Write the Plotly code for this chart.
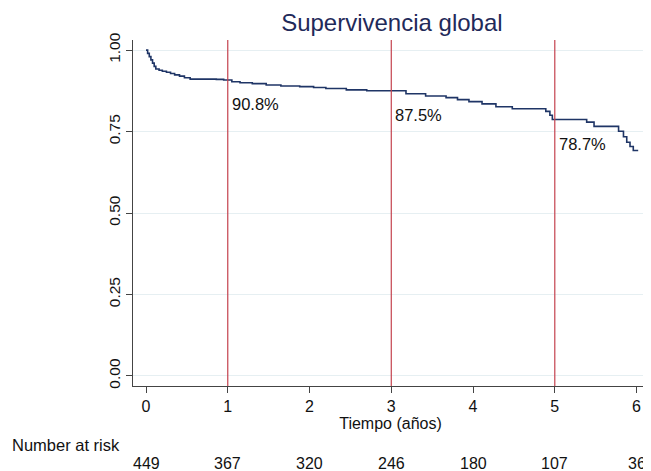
import plotly.graph_objects as go

# Kaplan-Meier estimate (time in years, survival)
km_time = [0.0, 0.02, 0.04, 0.06, 0.08, 0.10, 0.12, 0.16, 0.20, 0.25, 0.30, 0.35, 0.41, 0.47, 0.54,
           0.86, 0.95, 1.05, 1.15, 1.30, 1.47, 1.65, 1.88, 2.05, 2.20, 2.45, 2.70, 3.18, 3.42,
           3.67, 3.81, 3.95, 4.11, 4.28, 4.48, 4.89, 4.94, 4.97, 5.39, 5.48, 5.78, 5.84, 5.88,
           5.92, 5.96, 6.02]
km_surv = [1.0, 0.99, 0.98, 0.97, 0.96, 0.95, 0.942, 0.938, 0.935, 0.932, 0.928, 0.924, 0.920, 0.915, 0.911,
           0.910, 0.908, 0.903, 0.900, 0.897, 0.893, 0.890, 0.888, 0.885, 0.882, 0.878, 0.875, 0.866, 0.859,
           0.854, 0.848, 0.842, 0.835, 0.826, 0.820, 0.812, 0.800, 0.787, 0.779, 0.766, 0.751, 0.734, 0.717,
           0.704, 0.692, 0.692]

marker_years = [1, 3, 5]
marker_labels = ["90.8%", "87.5%", "78.7%"]
marker_values = [0.908, 0.875, 0.787]

risk_times = [0, 1, 2, 3, 4, 5, 6]
risk_counts = [449, 367, 320, 246, 180, 107, 36]

x_ticks = [0, 1, 2, 3, 4, 5, 6]
y_ticks = [0.0, 0.25, 0.5, 0.75, 1.0]
y_tick_text = ["0.00", "0.25", "0.50", "0.75", "1.00"]

FONT = "Liberation Sans, Arial, sans-serif"

fig = go.Figure()
fig.add_trace(go.Scatter(x=km_time, y=km_surv, mode="lines", line_shape="hv",
                         line=dict(color="#1f3566", width=1.6), showlegend=False,
                         hoverinfo="skip"))

for yr in marker_years:
    fig.add_shape(type="line", x0=yr, x1=yr, y0=0, y1=1, xref="x", yref="paper",
                  line=dict(color="#c4424e", width=1.2))

for yr, lab, v in zip(marker_years, marker_labels, marker_values):
    fig.add_annotation(x=yr, y=v, text=lab, showarrow=False, xanchor="left", yanchor="top",
                       xshift=2, yshift=-13, font=dict(size=16.5, color="#111", family=FONT))

fig.add_annotation(x=-0.2388, y=-0.1705, xref="paper", yref="paper", text="Number at risk",
                   showarrow=False, xanchor="left", yanchor="middle",
                   font=dict(size=16.5, color="#111", family=FONT))
for t, n in zip(risk_times, risk_counts):
    fig.add_annotation(x=t, y=-0.2254, xref="x", yref="paper", text=str(n), showarrow=False,
                       xanchor="center", yanchor="middle",
                       font=dict(size=16, color="#111", family=FONT))

fig.update_layout(
    width=643, height=463,
    margin=dict(l=125, r=3, t=32, b=85),
    paper_bgcolor="white", plot_bgcolor="white",
    title=dict(text="Supervivencia global", x=0.597, xanchor="center", y=0.969, yanchor="middle",
               font=dict(size=24, color="#1f2a5a", family=FONT)),
    font=dict(family=FONT, color="#111"),
)
fig.update_xaxes(range=[-0.159, 6.14], tickvals=x_ticks, ticks="outside", ticklen=6,
                 tickcolor="#444", showline=True, linecolor="#444", linewidth=1,
                 showgrid=False, zeroline=False, tickfont=dict(size=16),
                 title=dict(text="Tiempo (años)", font=dict(size=16), standoff=2))
fig.update_yaxes(range=[-0.031, 1.031], tickvals=y_ticks, ticktext=y_tick_text,
                 ticks="outside", ticklen=6, tickcolor="#444", tickangle=-90,
                 showline=True, linecolor="#444", linewidth=1,
                 showgrid=True, gridcolor="#e6eff2", gridwidth=1, zeroline=False,
                 tickfont=dict(size=15.5))

fig.write_html("out.html")
